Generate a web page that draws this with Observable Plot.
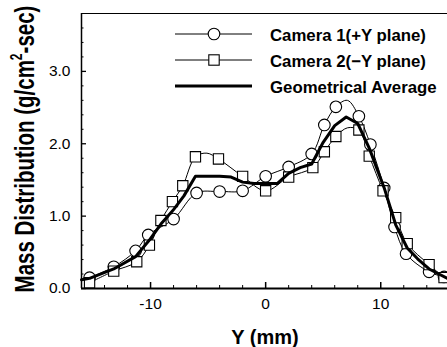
<!DOCTYPE html>
<html><head><meta charset="utf-8">
<script src="https://cdn.jsdelivr.net/npm/d3@7"></script>
<script src="https://cdn.jsdelivr.net/npm/@observablehq/plot@0.6"></script>
<style>
body{margin:0;background:#fff}
#chart{position:relative;width:447px;height:347px}
</style>
</head><body><div id="chart"></div>
<script>
// Camera 1 (+Y plane) – circles
const cam1X = [-15.3, -13.2, -11.3, -10.2, -8.0, -6.0, -4.0, -2.0, 0, 2.0, 4.0, 5.1, 6.1, 8.1, 9.1, 10.3, 11.2, 12.2, 14.2, 15.5];
const cam1Y = [0.15, 0.30, 0.52, 0.74, 0.96, 1.32, 1.34, 1.35, 1.55, 1.68, 1.86, 2.26, 2.51, 2.38, 1.99, 1.39, 0.85, 0.48, 0.23, 0.16];
// extra curve points (no marker)
const cam1ExtraX = [7.1];
const cam1ExtraY = [2.6];

// Camera 2 (-Y plane) – squares
const cam2X = [-15.3, -13.2, -11.2, -10.1, -9.1, -8.1, -7.2, -6.1, -4.1, -2.0, 0, 2.0, 4.1, 5.1, 6.1, 8.1, 9.0, 10.2, 11.3, 12.3, 14.2, 15.5];
const cam2Y = [0.08, 0.24, 0.37, 0.60, 0.94, 1.20, 1.42, 1.82, 1.79, 1.55, 1.35, 1.54, 1.67, 1.89, 2.10, 2.19, 1.83, 1.35, 0.98, 0.62, 0.33, 0.15];
const cam2ExtraX = [-5.1, 7.1];
const cam2ExtraY = [1.87, 2.22];

// Geometrical average – thick line
const avgX = [-16, -15.3, -13.2, -11.3, -10.1, -9.1, -8.0, -7.1, -6.1, -4.0, -3.0, -2.0, -1.0, 1.0, 2.0, 3.0, 4.0, 5.0, 6.0, 7.0, 8.0, 9.0, 10.3, 11.3, 12.3, 13.2, 14.2, 15.8];
const avgY = [0.12, 0.14, 0.27, 0.44, 0.67, 0.89, 1.09, 1.28, 1.55, 1.55, 1.54, 1.47, 1.45, 1.45, 1.59, 1.67, 1.72, 2.02, 2.25, 2.37, 2.28, 1.94, 1.39, 0.88, 0.56, 0.41, 0.27, 0.14];

const xTicks = [-10, 0, 10];
const xMinorTicks = [-14, -12, -8, -6, -4, -2, 2, 4, 6, 8, 12, 14];
const yTicks = [0, 1, 2, 3];
const yMinorTicks = [0.2,0.4,0.6,0.8,1.2,1.4,1.6,1.8,2.2,2.4,2.6,2.8,3.2,3.4,3.6];
const xDomain = [-16, 15.8];
const yDomain = [0, 3.8];

const seriesNames = ["Camera 1(+Y plane)", "Camera 2(\u2212Y plane)", "Geometrical Average"];
const xTitle = "Y (mm)";

const zip = (xs, ys) => xs.map((x, i) => ({x, y: ys[i]}));
const cam1 = zip(cam1X, cam1Y);
const cam2 = zip(cam2X, cam2Y);
const cam1Curve = cam1.concat(zip(cam1ExtraX, cam1ExtraY)).sort((a, b) => a.x - b.x);
const cam2Curve = cam2.concat(zip(cam2ExtraX, cam2ExtraY)).sort((a, b) => a.x - b.x);
const avg = zip(avgX, avgY);

const FONT = "'Liberation Sans', Arial, Helvetica, sans-serif";

const plot = Plot.plot({
  width: 447, height: 347,
  marginLeft: 81, marginRight: 0, marginTop: 13, marginBottom: 59,
  x: {domain: xDomain},
  y: {domain: yDomain},
  style: {fontFamily: FONT, fontSize: "15px", color: "#000", background: "#fff", overflow: "visible"},
  marks: [
    Plot.axisX({ticks: xMinorTicks, tickSize: -3, tickFormat: () => "", label: null}),
    Plot.axisX({ticks: xTicks, tickSize: -6, tickFormat: () => "", label: null, strokeWidth: 1.5}),
    Plot.axisX({ticks: xTicks, tickSize: 0, tickPadding: 9, tickFormat: d => (d < 0 ? "-" + Math.abs(d) : String(d)), label: null, fontSize: 15.5}),
    Plot.axisY({ticks: yMinorTicks, tickSize: -2.5, tickFormat: () => "", label: null}),
    Plot.axisY({ticks: yTicks, tickSize: -5, tickFormat: () => "", label: null, strokeWidth: 1.3}),
    Plot.axisY({ticks: yTicks, tickSize: 0, tickPadding: 11, tickFormat: d3.format(".1f"), label: null, fontSize: 15.5}),
    Plot.ruleX([xDomain[0]], {strokeWidth: 1.5}),
    Plot.ruleY([yDomain[0]], {strokeWidth: 2}),
    Plot.ruleY([yDomain[1]], {strokeWidth: 1.2}),
    Plot.line(cam1Curve, {x: "x", y: "y", curve: "catmull-rom", stroke: "#000", strokeWidth: 1}),
    Plot.line(cam2Curve, {x: "x", y: "y", curve: "catmull-rom", stroke: "#000", strokeWidth: 1}),
    Plot.dot(cam1, {x: "x", y: "y", symbol: "circle", r: 5.8, fill: "#fff", stroke: "#000", strokeWidth: 1.1}),
    Plot.dot(cam2, {x: "x", y: "y", symbol: "square", r: 5.8, fill: "#fff", stroke: "#000", strokeWidth: 1.1}),
    Plot.line(avg, {x: "x", y: "y", stroke: "#000", strokeWidth: 3, strokeLinejoin: "round"})
  ]
});
document.getElementById("chart").appendChild(plot);

const svg = d3.select(plot);
// Legend
const rowsY = [34, 60, 86];
const leg = svg.append("g").attr("font-family", FONT).attr("text-anchor", "start");
seriesNames.forEach((name, i) => {
  const y = rowsY[i];
  leg.append("line").attr("x1", 175).attr("x2", 252).attr("y1", y).attr("y2", y)
    .attr("stroke", "#000").attr("stroke-width", i === 2 ? 3 : 1);
  if (i === 0) leg.append("circle").attr("cx", 214).attr("cy", y).attr("r", 5.8).attr("fill", "#fff").attr("stroke", "#000").attr("stroke-width", 1.1);
  if (i === 1) leg.append("rect").attr("x", 214 - 5.2).attr("y", y - 5.2).attr("width", 10.4).attr("height", 10.4).attr("fill", "#fff").attr("stroke", "#000").attr("stroke-width", 1.1);
  leg.append("text").attr("x", 270).attr("y", y + 6.5).attr("text-anchor", "start").attr("font-size", 16.8).attr("font-weight", "bold").attr("fill", "#000").text(name);
});
// Axis titles
svg.append("text").attr("x", 265).attr("y", 344).attr("text-anchor", "middle")
  .attr("font-family", FONT).attr("font-size", 20).attr("font-weight", "bold").text(xTitle);
const yt = svg.append("text").attr("transform", "translate(34,149) rotate(-90) scale(1,1.35)")
  .attr("text-anchor", "middle").attr("font-family", FONT).attr("font-size", 20.5).attr("font-weight", "bold");
yt.append("tspan").text("Mass Distribution (g/cm");
yt.append("tspan").attr("font-size", 12).attr("dy", "-0.75em").text("2");
yt.append("tspan").attr("dy", "0.45em").text("-sec)");
</script>
</body></html>
